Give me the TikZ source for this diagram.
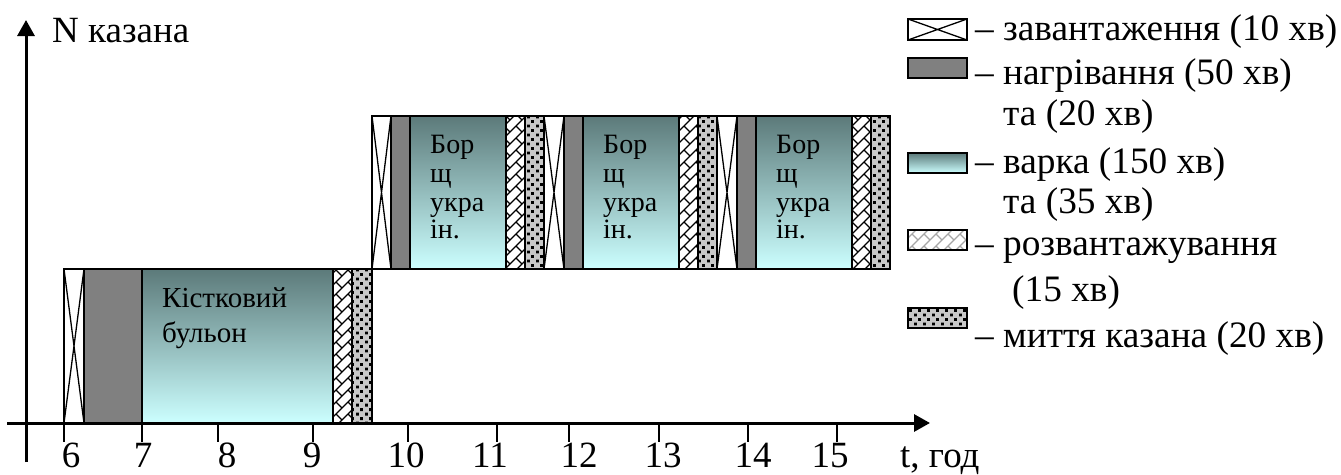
\documentclass[tikz,border=0pt]{standalone}
\usepackage{fontspec}
\setmainfont{Liberation Serif}
\usetikzlibrary{patterns,arrows.meta}
\definecolor{heatgray}{RGB}{128,128,128}
\definecolor{cooktop}{RGB}{92,122,122}
\definecolor{cookbot}{RGB}{204,255,255}
\definecolor{washbg}{RGB}{200,200,200}
\pgfdeclarepatternformonly{washdots}{\pgfqpoint{-1pt}{-1pt}}{\pgfqpoint{10pt}{10pt}}{\pgfqpoint{9pt}{9pt}}{%
  \pgfpathrectangle{\pgfqpoint{0pt}{0pt}}{\pgfqpoint{2.8pt}{2.8pt}}%
  \pgfpathrectangle{\pgfqpoint{5pt}{4.5pt}}{\pgfqpoint{2.8pt}{2.8pt}}%
  \pgfusepath{fill}}
\pgfdeclarepatternformonly{unloadhatch}{\pgfqpoint{-1pt}{-1pt}}{\pgfqpoint{13pt}{13pt}}{\pgfqpoint{12pt}{12pt}}{%
  \pgfsetlinewidth{1.3pt}%
  \pgfpathmoveto{\pgfqpoint{0pt}{0pt}}\pgfpathlineto{\pgfqpoint{12pt}{12pt}}%
  \pgfpathmoveto{\pgfqpoint{0pt}{12pt}}\pgfpathlineto{\pgfqpoint{6pt}{6pt}}%
  \pgfusepath{stroke}}
\tikzset{
  seg/.style={draw=black, line width=2pt},
  loadbox/.style={seg, fill=white},
  heatbox/.style={seg, fill=heatgray},
  cookbox/.style={seg, top color=cooktop, bottom color=cookbot},
  unloadbox/.style={seg, preaction={fill=white}, pattern=unloadhatch},
  unloadlegend/.style={seg, preaction={fill=white}, pattern=unloadhatch, pattern color=gray!70},
  washbox/.style={seg, preaction={fill=washbg}, pattern=washdots},
  xline/.style={line width=1.3pt},
  axis/.style={line width=3pt, -{Triangle[length=16pt,width=17pt]}},
  tick/.style={line width=2pt},
  bigtxt/.style={font=\fontsize{37.3}{42}\selectfont, inner sep=0pt, anchor=base west},
  axtxt/.style={font=\fontsize{37}{42}\selectfont, inner sep=0pt, anchor=base west},
  ticklbl/.style={font=\fontsize{37}{42}\selectfont, inner sep=0pt, anchor=base},
  boxtxt/.style={font=\fontsize{29}{33}\selectfont, inner sep=0pt, anchor=base west},
  smalltxt/.style={font=\fontsize{28}{29}\selectfont, inner sep=0pt, anchor=base west},
}
\begin{document}
\begin{tikzpicture}[x=1pt,y=-1pt]
\useasboundingbox (0,0) rectangle (1341,474);
% lower bar (bone broth)
\draw[loadbox] (64,269) rectangle (84,423);
\draw[xline] (64,269) -- (84,423) (84,269) -- (64,423);
\draw[heatbox] (84,269) rectangle (142,423);
\draw[cookbox] (142,269) rectangle (333,423);
\draw[unloadbox] (333,269) rectangle (352,423);
\draw[washbox] (352,269) rectangle (372,423);
\node[boxtxt] (k1) at (162,307) {Кістковий};
\node[boxtxt] (k2) at (162,342) {бульон};
% upper bar: three borshch cycles
\foreach \a/\b/\c/\d/\e/\f/\n in {372/391/410/506/525/544/1, 544/564/583/679/698/717/2, 717/737/756/852/871/890/3}{
  \draw[loadbox] (\a,116) rectangle (\b,269);
  \draw[xline] (\a,116) -- (\b,269) (\b,116) -- (\a,269);
  \draw[heatbox] (\b,116) rectangle (\c,269);
  \draw[cookbox] (\c,116) rectangle (\d,269);
  \draw[unloadbox] (\d,116) rectangle (\e,269);
  \draw[washbox] (\e,116) rectangle (\f,269);
  \node[smalltxt] (b\n a) at ([xshift=20pt]\c,153) {Бор};
  \node[smalltxt] (b\n b) at ([xshift=20pt]\c,182) {щ};
  \node[smalltxt] (b\n c) at ([xshift=20pt]\c,211) {укра};
  \node[smalltxt] (b\n d) at ([xshift=20pt]\c,238) {ін.};
}
% axes
\coordinate (xa) at (7,423);
\coordinate (xb) at (930,423);
\coordinate (ya) at (26,462);
\coordinate (yb) at (26,20);
\draw[axis] (xa) -- (xb);
\draw[axis] (ya) -- (yb);
\foreach \x in {64,142,218,313,408,497,569,659,748,837}{
  \draw[tick] (\x,423) -- (\x,442);
}
\foreach \x/\l in {71/6,143/7,227/8,312/9,406/10,490/11,579/12,663/13,753/14,830/15}{
  \node[ticklbl] (t\l) at (\x,467) {\l};
}
\node[axtxt] (tl) at (900,467) {t, год};
\node[axtxt] (nl) at (52,42) {N казана};
% legend
\draw[loadbox] (908,19) rectangle (967,40);
\draw[xline] (908,19) -- (967,40) (967,19) -- (908,40);
\draw[heatbox] (908,58) rectangle (967,78);
\draw[cookbox] (908,153) rectangle (967,173);
\draw[unloadlegend] (908,230) rectangle (967,250);
\draw[washbox] (908,308) rectangle (967,328);
\node[bigtxt] (l1) at (975,40) {– завантаження (10 хв)};
\node[bigtxt] (l2) at (975,84) {– нагрівання (50 хв)};
\node[bigtxt] (l3) at (1003,125) {та (20 хв)};
\node[bigtxt] (l4) at (975,173) {– варка (150 хв)};
\node[bigtxt] (l5) at (1003,213) {та (35 хв)};
\node[bigtxt] (l6) at (975,255) {– розвантажування};
\node[bigtxt] (l7) at (1012,301) {(15 хв)};
\node[bigtxt] (l8) at (975,347) {– миття казана (20 хв)};
\end{tikzpicture}
\end{document}
